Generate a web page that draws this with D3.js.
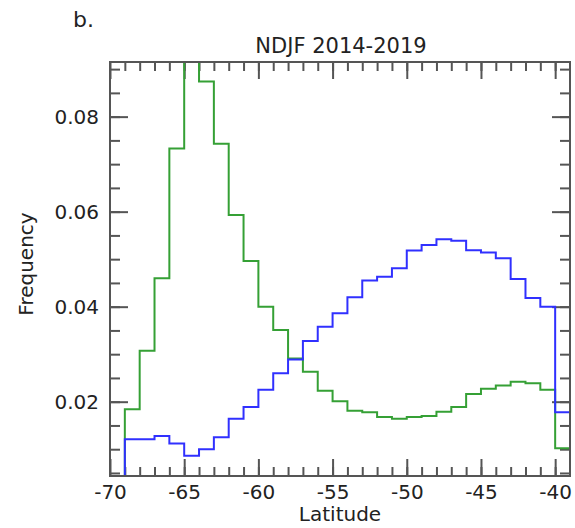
<!DOCTYPE html>
<html>

<head>
    <meta charset="utf-8">
    <style>
        body {
            margin: 0;
            background: white;
            font-family: "DejaVu Sans";
        }

        svg {
            display: block;
        }

        .axis .domain {
            display: none;
        }

        .axis .tick line {
            stroke: #555;
            stroke-width: 2px;
        }

        .axis .tick text {
            font-size: 20px;
            fill: #222;
            font-family: "DejaVu Sans";
        }
    </style>
</head>

<body>
    <svg width="575" height="528"></svg>
</body>

<script src="https://d3js.org/d3.v7.min.js"></script>

<script>

    // bins are 1 degree wide, starting at -69
    let binStarts = d3.range(-69, -39)

    let blueValues = [0.0121, 0.0121, 0.0128, 0.0112, 0.0086, 0.0100, 0.0125, 0.0164, 0.0189, 0.0225,
        0.0260, 0.0289, 0.0328, 0.0358, 0.0386, 0.0420, 0.0455, 0.0463, 0.0481, 0.0518,
        0.0530, 0.0542, 0.0539, 0.0519, 0.0514, 0.0502, 0.0458, 0.0418, 0.0400, 0.0178]

    let greenValues = [0.0184, 0.0307, 0.0460, 0.0733, 0.0970, 0.0874, 0.0743, 0.0593, 0.0496, 0.0400,
        0.0351, 0.0291, 0.0263, 0.0223, 0.0201, 0.0181, 0.0178, 0.0168, 0.0164, 0.0168,
        0.0170, 0.0179, 0.0189, 0.0216, 0.0227, 0.0234, 0.0242, 0.0239, 0.0225, 0.0102]

    let xMajorTicks = [-70, -65, -60, -55, -50, -45, -40]
    let yMajorTicks = [0.02, 0.04, 0.06, 0.08]

    let svg = d3.select("svg")

    let box = { left: 110, right: 570, top: 62, bottom: 476 }

    let x = d3.scaleLinear()
        .domain([-70, -39])
        .range([box.left, box.right])

    let y = d3.scaleLinear()
        .domain([0.00436, 0.0915])
        .range([box.bottom, box.top])

    let xMinor = d3.range(-69, -39)
    let yMinor = d3.range(1, 19).map(d => d * 0.005)

    // minor ticks
    svg.append("g")
        .attr("class", "axis")
        .attr("transform", `translate(0,${box.bottom})`)
        .call(d3.axisBottom(x).tickValues(xMinor).tickSize(-9).tickFormat(""))
    svg.append("g")
        .attr("class", "axis")
        .attr("transform", `translate(0,${box.top})`)
        .call(d3.axisTop(x).tickValues(xMinor).tickSize(-9).tickFormat(""))
    svg.append("g")
        .attr("class", "axis")
        .attr("transform", `translate(${box.left},0)`)
        .call(d3.axisLeft(y).tickValues(yMinor).tickSize(-10).tickFormat(""))
    svg.append("g")
        .attr("class", "axis")
        .attr("transform", `translate(${box.right},0)`)
        .call(d3.axisRight(y).tickValues(yMinor).tickSize(-10).tickFormat(""))

    // major ticks (plain hyphen for the minus sign, as in the original)
    svg.append("g")
        .attr("class", "x axis")
        .attr("transform", `translate(0,${box.bottom})`)
        .call(d3.axisBottom(x).tickValues(xMajorTicks).tickSize(-17).tickPadding(9).tickFormat(d => String(d)))
    svg.append("g")
        .attr("class", "axis")
        .attr("transform", `translate(0,${box.top})`)
        .call(d3.axisTop(x).tickValues(xMajorTicks).tickSize(-17).tickFormat(""))
    svg.append("g")
        .attr("class", "y axis")
        .attr("transform", `translate(${box.left},0)`)
        .call(d3.axisLeft(y).tickValues(yMajorTicks).tickSize(-18).tickPadding(11).tickFormat(d3.format(".2f")))
    svg.append("g")
        .attr("class", "axis")
        .attr("transform", `translate(${box.right},0)`)
        .call(d3.axisRight(y).tickValues(yMajorTicks).tickSize(-18).tickFormat(""))

    svg.selectAll(".x.axis .tick text").attr("dy", "0.71em")

    // clip the histogram lines to the frame
    svg.append("clipPath")
        .attr("id", "plot-clip")
        .append("rect")
        .attr("x", box.left)
        .attr("y", box.top)
        .attr("width", box.right - box.left)
        .attr("height", box.bottom - box.top)

    function stepPoints(values) {
        let pts = [[binStarts[0], y.domain()[0]]]
        values.forEach((v, i) => pts.push([binStarts[i], v]))
        pts.push([binStarts[binStarts.length - 1] + 1, values[values.length - 1]])
        return pts
    }

    let line = d3.line()
        .x(d => x(d[0]))
        .y(d => y(d[1]))
        .curve(d3.curveStepAfter)

    let series = [
        { name: "green", values: greenValues, color: "#35a035" },
        { name: "blue", values: blueValues, color: "#3030ff" }
    ]

    svg.append("g")
        .attr("clip-path", "url(#plot-clip)")
        .selectAll("path")
        .data(series)
        .join("path")
        .attr("d", d => line(stepPoints(d.values)))
        .style("fill", "none")
        .style("stroke", d => d.color)
        .style("stroke-width", "2px")

    // frame
    svg.append("rect")
        .attr("x", box.left)
        .attr("y", box.top)
        .attr("width", box.right - box.left)
        .attr("height", box.bottom - box.top)
        .style("fill", "none")
        .style("stroke", "#555")
        .style("stroke-width", "2px")

    svg.append("text")
        .attr("x", 341)
        .attr("y", 53)
        .attr("text-anchor", "middle")
        .style("font-size", "21px")
        .style("fill", "#222")
        .text("NDJF 2014-2019")

    svg.append("text")
        .attr("x", 340)
        .attr("y", 521)
        .attr("text-anchor", "middle")
        .style("font-size", "20px")
        .style("fill", "#222")
        .text("Latitude")

    svg.append("text")
        .attr("transform", "translate(33,264) rotate(-90)")
        .attr("text-anchor", "middle")
        .style("font-size", "20px")
        .style("fill", "#222")
        .text("Frequency")

    svg.append("text")
        .attr("x", 73)
        .attr("y", 27)
        .style("font-size", "22px")
        .style("fill", "#222")
        .text("b.")

</script>

</html>
